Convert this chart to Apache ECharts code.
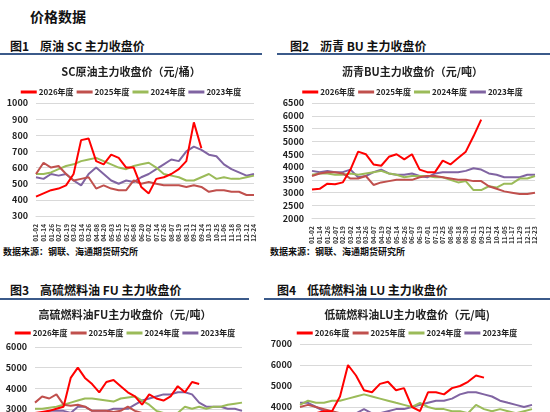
<!DOCTYPE html>
<html><head><meta charset="utf-8">
<script src="https://cdn.jsdelivr.net/npm/echarts@6/dist/echarts.min.js"></script>
<style>
body{margin:0;width:550px;height:412px;overflow:hidden;background:#fff;font-family:"Noto Sans CJK SC",sans-serif;position:relative}
.t{position:absolute;font-weight:bold;color:#111}
.rule{position:absolute;height:2px;background:#3b5a8a}
.c{position:absolute}
</style></head><body>
<div class="t" style="left:30px;top:6px;font-size:14px">价格数据</div>
<div class="t" style="left:10px;top:37px;font-size:12px">图1&nbsp;&nbsp;&nbsp;&nbsp;原油 SC 主力收盘价</div>
<div class="t" style="left:290px;top:37px;font-size:12px">图2&nbsp;&nbsp;&nbsp;&nbsp;沥青 BU 主力收盘价</div>
<div class="rule" style="left:0;top:53px;width:262px"></div>
<div class="rule" style="left:277px;top:53px;width:273px"></div>
<div class="t" style="left:3px;top:245px;font-size:9px">数据来源：钢联、海通期货研究所</div>
<div class="t" style="left:270px;top:245px;font-size:9px">数据来源：钢联、海通期货研究所</div>
<div class="t" style="left:10px;top:281px;font-size:12px">图3&nbsp;&nbsp;&nbsp;&nbsp;高硫燃料油 FU 主力收盘价</div>
<div class="t" style="left:277px;top:281px;font-size:12px">图4&nbsp;&nbsp;&nbsp;&nbsp;低硫燃料油 LU 主力收盘价</div>
<div class="rule" style="left:0;top:298px;width:249px"></div>
<div class="rule" style="left:264px;top:298px;width:286px"></div>
<div id="c1" class="c" style="left:0;top:57px;width:262px;height:190px"></div>
<div id="c2" class="c" style="left:275px;top:57px;width:275px;height:190px"></div>
<div id="c3" class="c" style="left:0;top:302px;width:250px;height:190px"></div>
<div id="c4" class="c" style="left:264px;top:302px;width:286px;height:190px"></div>
<script>
const years=['2026年度','2025年度','2024年度','2023年度'];
const colors=['#ff0000','#c0504d','#9bbb59','#8064a2'];
const datesA=['01-02','01-14','01-26','02-07','02-19','03-02','03-14','03-26','04-08','04-20','05-03','05-15','05-27','06-08','06-20','07-02','07-14','07-26','08-07','08-19','08-31','09-12','09-24','10-13','10-25','11-06','11-18','11-30','12-12','12-24'];
const datesB=['01-02','01-14','01-26','02-07','02-19','03-02','03-14','03-26','04-07','04-19','05-02','05-14','05-26','06-07','06-19','07-01','07-13','07-25','08-06','08-18','08-30','09-11','09-23','10-12','10-24','11-05','11-17','11-29','12-11','12-23'];
const sc2026=[420,440,460,470,490,560,770,780,640,620,680,660,600,600,480,440,530,540,560,590,640,880,720];
const sc2025=[560,630,600,610,560,520,530,540,470,490,470,460,460,520,500,510,500,490,490,490,480,490,480,450,460,460,450,450,430,430];
const sc2024=[560,560,570,590,610,620,640,650,660,640,620,600,590,610,620,630,600,560,550,540,520,520,540,560,530,540,530,530,540,550];
const sc2023=[540,530,560,550,560,520,490,560,600,560,520,500,520,510,540,560,590,620,650,640,700,730,710,680,670,620,590,570,550,560];
const bu2026=[3120,3150,3350,3330,3400,3900,4600,4500,4100,4050,4400,4500,4300,4500,3900,3800,3800,4250,4100,4350,4600,5200,5850];
const bu2025=[3650,3750,3800,3800,3750,3550,3550,3650,3300,3400,3450,3500,3500,3500,3600,3650,3650,3600,3550,3500,3500,3450,3450,3250,3150,3050,3000,2950,2950,3000];
const bu2024=[3700,3750,3750,3700,3700,3750,3700,3750,3800,3850,3750,3700,3600,3650,3650,3650,3600,3600,3500,3400,3450,3100,3100,3250,3200,3350,3350,3550,3550,3650];
const bu2023=[3850,3800,3850,3800,3800,3900,3600,3650,3800,3900,3750,3700,3700,3750,3650,3600,3750,3800,3800,3800,3850,3950,3900,3750,3700,3600,3600,3600,3700,3700];
const fu2026=[2800,2850,2900,3000,3100,4500,5000,4500,4200,3800,4300,4400,4100,3800,3600,3200,3700,3500,3400,3600,4100,3800,4300,4200];
const fu2025=[3300,3600,3500,3700,3200,3150,3200,3100,2900,2900,2900,2850,2900,3100,2900,2800,2700,2700,2700,2650,2700,2650,2600,2600,2600,2550,2550,2500,2500,2500];
const fu2024=[3000,3000,3050,3100,3200,3300,3400,3500,3500,3450,3400,3350,3500,3550,3600,3400,3200,2900,2800,2700,2800,3100,3000,3100,3000,3100,3100,3200,3250,3300];
const fu2023=[2800,2800,2900,2900,2900,2800,3100,3100,2900,2900,2900,3000,3000,3000,3200,3400,3500,3600,3700,3700,3800,3800,3700,3300,3100,3100,3100,3000,3000,2900];
const lu2026=[3600,3700,3700,3800,3800,4500,6000,5500,4800,4700,5100,5200,4800,4900,4000,3800,4700,4700,4600,4900,5000,5200,5500,5400];
const lu2025=[4000,4100,4000,3900,3800,3700,3700,3600,3500,3500,3400,3400,3500,3600,3500,3400,3400,3300,3300,3300,3200,3200,3100,3100,3000,3000,2900,2900,2900,2900];
const lu2024=[4100,4300,4200,4200,4300,4300,4400,4500,4600,4500,4400,4300,4200,4100,4000,4200,4000,3900,3900,3800,3800,3700,4100,3900,3800,3900,3800,3700,3800,3900];
const lu2023=[4200,4200,4000,3800,3700,3700,3500,3700,3900,3700,3700,3800,3900,3900,4000,4100,4200,4300,4300,4400,4600,4700,4700,4600,4500,4300,4200,4100,4000,4100];
const F='"Noto Sans CJK SC",sans-serif';
function mk(id,title,dates,sets,min,max,step,grid){
  const c=echarts.init(document.getElementById(id));
  c.setOption({animation:false,
    title:{text:title,left:'center',top:grid.tt,textStyle:{fontSize:11,fontWeight:'bold',color:'#222',fontFamily:F}},
    legend:{top:grid.lt,left:'center',itemWidth:16,itemHeight:3,itemGap:3,icon:'rect',textStyle:{fontSize:8,fontWeight:'bold',color:'#222',fontFamily:F,padding:[0,0,0,-3]},data:years},
    grid:{left:grid.l,right:grid.r,top:grid.t,bottom:grid.b},
    xAxis:{type:'category',data:dates,boundaryGap:false,axisLine:{lineStyle:{color:'#d9d9d9'}},axisTick:{show:false},
      axisLabel:{rotate:90,interval:0,fontSize:6.5,fontWeight:'bold',color:'#333',fontFamily:F}},
    yAxis:{type:'value',min:min,max:max,interval:step,axisLine:{show:false},axisTick:{show:false},
      splitLine:{lineStyle:{color:'#d9d9d9'}},axisLabel:{formatter:v=>String(v),fontSize:9,fontWeight:'bold',color:'#222',fontFamily:F}},
    series:sets.map((d,i)=>({name:years[i],type:'line',data:d,showSymbol:false,lineStyle:{width:2,color:colors[i]},itemStyle:{color:colors[i]},z:10-i}))
  });
}
mk('c1','SC原油主力收盘价（元/桶）',datesA,[sc2026,sc2025,sc2024,sc2023],300,1000,100,{tt:4,lt:26,l:36,r:8,t:46,b:31});
mk('c2','沥青BU主力收盘价（元/吨）',datesB,[bu2026,bu2025,bu2024,bu2023],2000,6500,500,{tt:4,lt:26,l:37,r:15,t:46,b:26});
mk('c3','高硫燃料油FU主力收盘价（元/吨）',datesA,[fu2026,fu2025,fu2024,fu2023],1000,6000,1000,{tt:2,lt:22,l:35,r:8,t:45,b:42});
mk('c4','低硫燃料油LU主力收盘价（元/吨)',datesB,[lu2026,lu2025,lu2024,lu2023],2000,7000,1000,{tt:2,lt:22,l:36,r:18,t:42,b:43});
</script></body></html>
